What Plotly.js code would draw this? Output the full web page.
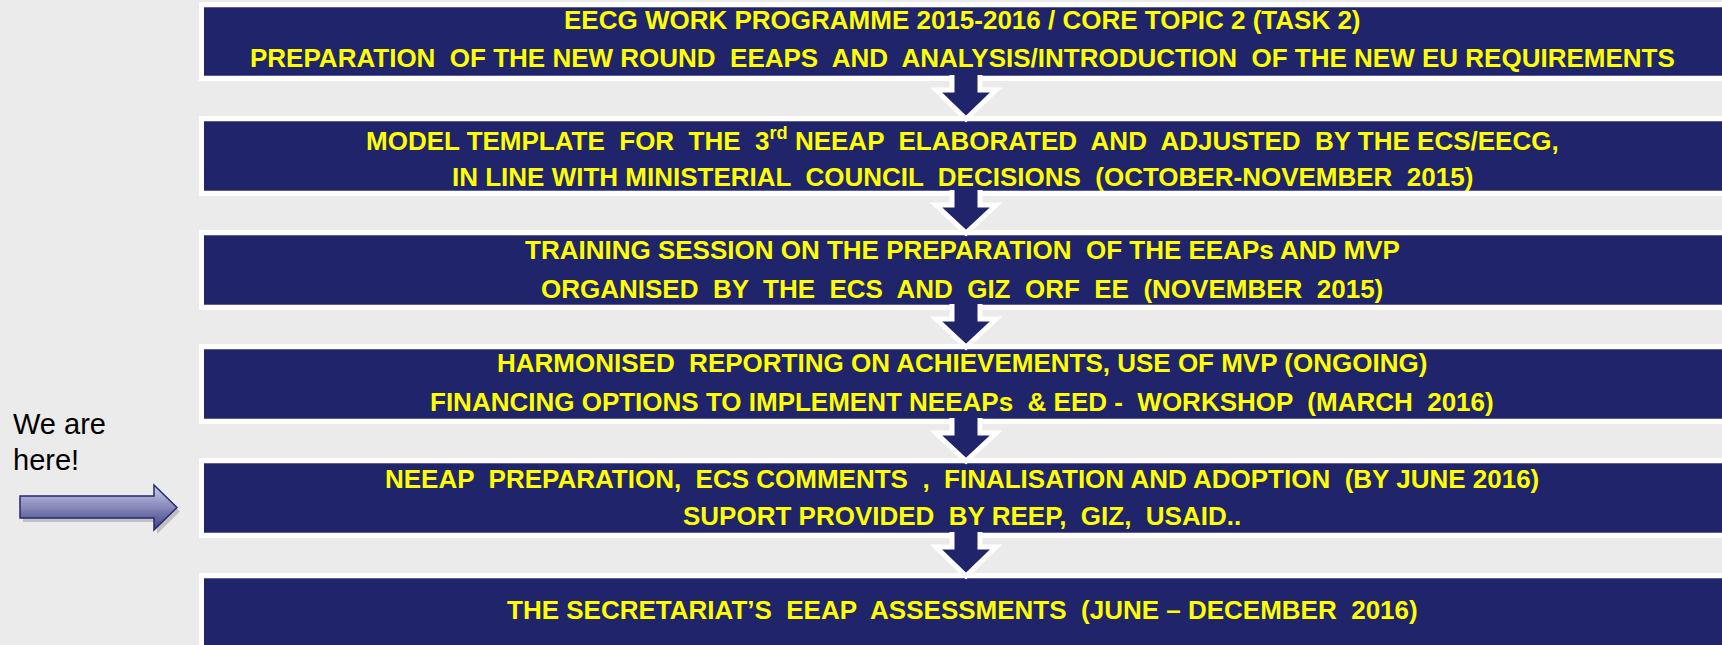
<!DOCTYPE html>
<html>
<head>
<meta charset="utf-8">
<script src="https://cdn.plot.ly/plotly-3.0.1.min.js"></script>
<style>
html,body{margin:0;padding:0;background:#ebebeb;}
#chart{width:1722px;height:645px;}
</style>
</head>
<body>
<div id="chart"></div>
<script>
// ---- content ----
const stepLine1 = [
  "EECG WORK PROGRAMME 2015-2016 / CORE TOPIC 2 (TASK 2)",
  "MODEL TEMPLATE  FOR  THE  3<sup>rd</sup> NEEAP  ELABORATED  AND  ADJUSTED  BY THE ECS/EECG,",
  "TRAINING SESSION ON THE PREPARATION  OF THE EEAPs AND MVP",
  "HARMONISED  REPORTING ON ACHIEVEMENTS, USE OF MVP (ONGOING)",
  "NEEAP  PREPARATION,  ECS COMMENTS  ,  FINALISATION AND ADOPTION  (BY JUNE 2016)",
  "THE SECRETARIAT\u2019S  EEAP  ASSESSMENTS  (JUNE \u2013 DECEMBER  2016)"
];
const stepLine2 = [
  "PREPARATION  OF THE NEW ROUND  EEAPS  AND  ANALYSIS/INTRODUCTION  OF THE NEW EU REQUIREMENTS",
  "IN LINE WITH MINISTERIAL  COUNCIL  DECISIONS  (OCTOBER-NOVEMBER  2015)",
  "ORGANISED  BY  THE  ECS  AND  GIZ  ORF  EE  (NOVEMBER  2015)",
  "FINANCING OPTIONS TO IMPLEMENT NEEAPs  & EED -  WORKSHOP  (MARCH  2016)",
  "SUPORT PROVIDED  BY REEP,  GIZ,  USAID..",
  ""
];
const sideNote = ["We are", "here!"];

// ---- layout constants (pixel geometry) ----
const W = 1722, H = 645;
const boxTop = [7, 121, 235, 349, 463, 578];
const boxBottom = [76, 191, 305, 419, 533, 700];
const lineY1 = [20, 139, 250, 363, 479, 610];
const lineY2 = [58, 177, 289, 402, 516, null];
const boxLeft = 204, boxRight = 1740, border = 5;
const textX = 962;
const arrowX = 966;
const NAVY = "#1f246b";
const YEL = "#ffff00";

const shapes = [];
const annotations = [];

// boxes
for (let i = 0; i < boxTop.length; i++) {
  shapes.push({type:"rect", xref:"x", yref:"y", x0:boxLeft-border, x1:boxRight, y0:boxTop[i]-border, y1:boxBottom[i]+border,
    fillcolor:"#ffffff", line:{width:0}, layer:"above"});
  shapes.push({type:"rect", xref:"x", yref:"y", x0:boxLeft, x1:boxRight, y0:boxTop[i], y1:boxBottom[i],
    fillcolor:NAVY, line:{width:0}, layer:"above"});
  [boxTop[i]+0.5, boxBottom[i]-0.5].forEach(yy => shapes.push({type:"line", xref:"x", yref:"y", x0:boxLeft, x1:boxRight, y0:yy, y1:yy,
    line:{color:"#5a5e9a", width:1}, layer:"above"}));
}

// down arrows between boxes
for (let i = 0; i < boxTop.length - 1; i++) {
  const sTop = boxBottom[i] - 1;
  const hTop = boxBottom[i] + border + 9;
  const tip = boxTop[i+1] - border + 3;
  const sw = 14, hw = 30;
  const p = `M${arrowX-sw},${sTop} L${arrowX-sw},${hTop} L${arrowX-hw},${hTop} L${arrowX},${tip} L${arrowX+hw},${hTop} L${arrowX+sw},${hTop} L${arrowX+sw},${sTop}`;
  shapes.push({type:"path", xref:"x", yref:"y", path:p, fillcolor:NAVY, line:{color:"#ffffff", width:5}, layer:"above"});
}

// left "we are here" arrow (with a vertical gradient built from bands)
const arrowPoly = [[20,496],[154,496],[154,485],[177,507.5],[154,530],[154,518],[20,518]];
function clipY(poly, yMin, yMax) {
  function clip(pts, inside, inter) {
    const out = [];
    for (let k = 0; k < pts.length; k++) {
      const a = pts[k], b = pts[(k+1)%pts.length];
      const ia = inside(a), ib = inside(b);
      if (ia) out.push(a);
      if (ia !== ib) out.push(inter(a,b));
    }
    return out;
  }
  const lerpAtY = (a,b,y) => [a[0] + (b[0]-a[0])*(y-a[1])/(b[1]-a[1]), y];
  let r = clip(poly, p => p[1] >= yMin, (a,b) => lerpAtY(a,b,yMin));
  r = clip(r, p => p[1] <= yMax, (a,b) => lerpAtY(a,b,yMax));
  return r;
}
const toPath = pts => "M" + pts.map(p => p[0].toFixed(2)+","+p[1].toFixed(2)).join(" L") + " Z";
shapes.push({type:"path", xref:"x", yref:"y", path:toPath(arrowPoly.map(p=>[p[0]+3,p[1]+4])),
  fillcolor:"rgba(0,0,0,0.18)", line:{width:0}, layer:"above"});
const c0 = [205,207,238], c1 = [62,66,132];
const nb = 22, gy0 = 485, gy1 = 530;
for (let b = 0; b < nb; b++) {
  const ya = gy0 + (gy1-gy0)*b/nb, yb = gy0 + (gy1-gy0)*(b+1)/nb;
  const pts = clipY(arrowPoly, ya-0.3, yb+0.3);
  if (pts.length < 3) continue;
  const t = (b+0.5)/nb;
  const col = `rgb(${c0.map((v,k)=>Math.round(v+(c1[k]-v)*t)).join(",")})`;
  shapes.push({type:"path", xref:"x", yref:"y", path:toPath(pts), fillcolor:col, line:{width:0}, layer:"above"});
}
shapes.push({type:"path", xref:"x", yref:"y", path:toPath(arrowPoly), fillcolor:"rgba(0,0,0,0)",
  line:{color:"#262a70", width:1.5}, layer:"above"});

// texts
const stepFont = {family:"'Liberation Sans Narrow', 'Arial Narrow', 'Liberation Sans', Arial, sans-serif", size:26, color:YEL, weight:"bold"};
for (let i = 0; i < stepLine1.length; i++) {
  annotations.push({x:textX, y:lineY1[i], xref:"x", yref:"y", text:"<b>"+stepLine1[i]+"</b>", showarrow:false,
    xanchor:"center", yanchor:"middle", font:stepFont});
  if (stepLine2[i]) annotations.push({x:textX, y:lineY2[i], xref:"x", yref:"y", text:"<b>"+stepLine2[i]+"</b>", showarrow:false,
    xanchor:"center", yanchor:"middle", font:stepFont});
}
const noteFont = {family:"'Liberation Sans', Arial, sans-serif", size:29, color:"#000000"};
annotations.push({x:11, y:424, xref:"x", yref:"y", text:sideNote[0], showarrow:false, xanchor:"left", yanchor:"middle", font:noteFont});
annotations.push({x:11, y:460, xref:"x", yref:"y", text:sideNote[1], showarrow:false, xanchor:"left", yanchor:"middle", font:noteFont});

const layout = {
  width:W, height:H, margin:{l:0,r:0,t:0,b:0,pad:0},
  paper_bgcolor:"#ebebeb", plot_bgcolor:"#ebebeb",
  xaxis:{range:[0,W], visible:false, fixedrange:true},
  yaxis:{range:[H,0], visible:false, fixedrange:true},
  shapes:shapes, annotations:annotations, showlegend:false
};
Plotly.newPlot("chart", [{x:[0], y:[0], mode:"markers", marker:{opacity:0}, hoverinfo:"skip"}], layout, {staticPlot:true, displayModeBar:false});
</script>
</body>
</html>
